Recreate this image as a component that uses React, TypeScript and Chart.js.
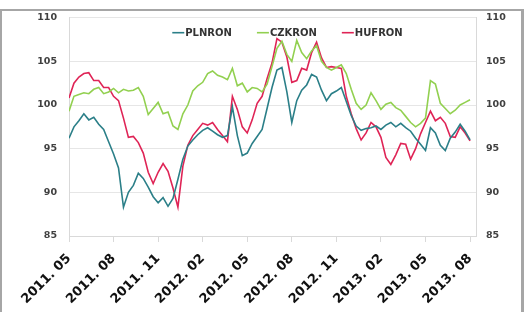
import React, { useEffect, useRef } from "react";
import { Chart, registerables } from "chart.js";

Chart.register(...registerables);

const dates: string[] = [
  "2011-05-01","2011-05-11","2011-05-21","2011-06-01","2011-06-11","2011-06-21",
  "2011-07-01","2011-07-11","2011-07-21","2011-08-01","2011-08-11","2011-08-21",
  "2011-09-01","2011-09-11","2011-09-21","2011-10-01","2011-10-11","2011-10-21",
  "2011-11-01","2011-11-11","2011-11-21","2011-12-01","2011-12-11","2011-12-21",
  "2012-01-01","2012-01-11","2012-01-21","2012-02-01","2012-02-11","2012-02-21",
  "2012-03-01","2012-03-11","2012-03-21","2012-04-01","2012-04-11","2012-04-21",
  "2012-05-01","2012-05-11","2012-05-21","2012-06-01","2012-06-11","2012-06-21",
  "2012-07-01","2012-07-11","2012-07-21","2012-08-01","2012-08-11","2012-08-21",
  "2012-09-01","2012-09-11","2012-09-21","2012-10-01","2012-10-11","2012-10-21",
  "2012-11-01","2012-11-11","2012-11-21","2012-12-01","2012-12-11","2012-12-21",
  "2013-01-01","2013-01-11","2013-01-21","2013-02-01","2013-02-11","2013-02-21",
  "2013-03-01","2013-03-11","2013-03-21","2013-04-01","2013-04-11","2013-04-21",
  "2013-05-01","2013-05-11","2013-05-21","2013-06-01","2013-06-11","2013-06-21",
  "2013-07-01","2013-07-11","2013-07-21","2013-08-01",
];

const plnron: number[] = [
  96.2, 97.5, 98.2, 99.0, 98.3, 98.6, 97.8, 97.2, 95.8, 94.4, 92.8, 88.3,
  90.0, 90.8, 92.2, 91.6, 90.6, 89.5, 88.8, 89.4, 88.4, 89.3, 91.5, 93.8,
  95.3, 96.0, 96.6, 97.1, 97.4, 97.0, 96.6, 96.3, 96.5, 99.8, 96.5, 94.2,
  94.5, 95.6, 96.4, 97.2, 99.6, 102.0, 104.0, 104.3, 101.5, 98.0, 100.5, 101.7,
  102.3, 103.5, 103.2, 101.7, 100.5, 101.3, 101.6, 102.0, 100.4, 98.8, 97.6, 97.1,
  97.3, 97.4, 97.6, 97.2, 97.7, 98.0, 97.5, 97.9, 97.4, 97.0, 96.2, 95.5,
  94.8, 97.4, 96.8, 95.4, 94.8, 96.2, 96.9, 97.8, 97.0, 96.0,
];

const czkron: number[] = [
  99.3, 101.0, 101.2, 101.4, 101.3, 101.8, 102.0, 101.3, 101.5, 101.9, 101.4, 101.8,
  101.6, 101.7, 102.0, 101.0, 98.9, 99.6, 100.3, 99.0, 99.2, 97.6, 97.2, 99.0,
  100.0, 101.6, 102.2, 102.6, 103.6, 103.9, 103.4, 103.2, 102.9, 104.2, 102.2, 102.5,
  101.5, 102.0, 101.9, 101.5, 102.4, 104.4, 106.5, 107.3, 105.8, 105.0, 107.4, 106.0,
  105.3, 106.2, 106.8, 105.0, 104.3, 104.0, 104.3, 104.6, 103.6, 101.8, 100.2, 99.5,
  100.0, 101.4, 100.5, 99.5, 100.1, 100.3, 99.7, 99.4, 98.7, 98.0, 97.5, 97.9,
  98.5, 102.8, 102.4, 100.2, 99.6, 99.0, 99.4, 100.0, 100.3, 100.6,
];

const hufron: number[] = [
  100.8, 102.5, 103.2, 103.6, 103.7, 102.8, 102.8, 102.0, 102.0, 101.0, 100.5, 98.5,
  96.3, 96.4, 95.7, 94.5, 92.3, 91.0, 92.3, 93.3, 92.4, 90.5, 88.3, 93.0,
  95.4, 96.5, 97.2, 97.9, 97.7, 98.0, 97.2, 96.5, 95.8, 101.0, 99.5, 97.5,
  96.8, 98.3, 100.2, 101.0, 103.0, 104.8, 107.6, 107.2, 105.5, 102.6, 102.8, 104.2,
  104.0, 106.0, 107.2, 105.4, 104.3, 104.4, 104.3, 104.2, 101.0, 99.0, 97.3, 96.0,
  96.8, 98.0, 97.5, 96.3, 94.0, 93.2, 94.3, 95.6, 95.5, 93.8, 95.0, 96.7,
  98.0, 99.3, 98.2, 98.6, 97.9, 96.4, 96.3, 97.5, 96.8, 95.9,
];

const tickLabels: string[] = [
  "2011. 05", "2011. 08", "2011. 11", "2012. 02", "2012. 05",
  "2012. 08", "2012. 11", "2013. 02", "2013. 05", "2013. 08",
];

const seriesNames = ["PLNRON", "CZKRON", "HUFRON"];
const seriesColors = ["#2B7F88", "#92D050", "#DF2456"];

function monthOffset(d: string): number {
  const [y, m, day] = d.split("-").map(Number);
  return (y - 2011) * 12 + (m - 5) + (day - 1) / 30;
}

const inlineLegend = {
  id: "inlineLegend",
  afterDraw(chart: any) {
    const { ctx, chartArea } = chart;
    const font = "bold 10px 'DejaVu Sans', sans-serif";
    ctx.save();
    ctx.font = font;
    const lineW = 12;
    const lineGap = 1;
    const itemGap = 25;
    const items = chart.data.datasets.map((ds: any) => ({
      label: ds.label as string,
      color: ds.borderColor as string,
      w: lineW + lineGap + ctx.measureText(ds.label).width,
    }));
    const total =
      items.reduce((s: number, it: any) => s + it.w, 0) + itemGap * (items.length - 1);
    let x = (chartArea.left + chartArea.right) / 2 + 15 - total / 2;
    const y = chartArea.top + 15;
    ctx.textBaseline = "middle";
    ctx.textAlign = "left";
    for (const it of items) {
      ctx.strokeStyle = it.color;
      ctx.lineWidth = 1.6;
      ctx.beginPath();
      ctx.moveTo(x, y);
      ctx.lineTo(x + lineW, y);
      ctx.stroke();
      ctx.fillStyle = "#333333";
      ctx.fillText(it.label, x + lineW + lineGap, y + 0.5);
      x += it.w + itemGap;
    }
    ctx.restore();
  },
};

export default function App() {
  const ref = useRef<HTMLCanvasElement | null>(null);

  useEffect(() => {
    if (!ref.current) return;
    const xs = dates.map(monthOffset);
    const all = [plnron, czkron, hufron];
    const chart = new Chart(ref.current, {
      type: "line",
      data: {
        datasets: all.map((vals, i) => ({
          label: seriesNames[i],
          data: vals.map((v, j) => ({ x: xs[j], y: v })),
          borderColor: seriesColors[i],
          backgroundColor: seriesColors[i],
          borderWidth: 1.6,
          pointRadius: 0,
          tension: 0,
          fill: false,
        })),
      },
      plugins: [inlineLegend],
      options: {
        responsive: false,
        animation: false,
        events: [],
        layout: { padding: { top: 17, left: 0, right: 0, bottom: 0 } },
        plugins: {
          tooltip: { enabled: false },
          legend: { display: false },
        },
        scales: {
          x: {
            type: "linear",
            min: 0,
            max: 27.4,
            afterBuildTicks: (scale: any) => {
              scale.ticks = tickLabels.map((_, i) => ({ value: i * 3 }));
            },
            afterFit: (scale: any) => {
              scale.height = 76;
            },
            ticks: {
              autoSkip: false,
              minRotation: 45,
              maxRotation: 45,
              padding: 9,
              color: "#111111",
              font: { family: "'DejaVu Sans', sans-serif", size: 13, weight: "bold" },
              callback: (v: any) => tickLabels[Math.round(Number(v) / 3)] ?? "",
            },
            grid: {
              display: true,
              drawOnChartArea: false,
              drawTicks: true,
              tickLength: 6,
              color: "#d9d9d9",
            },
            border: { display: true, color: "#d9d9d9" },
          },
          y: {
            position: "left",
            min: 85,
            max: 110,
            afterFit: (scale: any) => {
              scale.width = 69;
            },
            ticks: {
              stepSize: 5,
              padding: 12,
              color: "#404040",
              font: { family: "'DejaVu Sans', sans-serif", size: 9.5, weight: "bold" },
            },
            grid: { color: "#e6e6e6", drawTicks: false },
            border: { display: true, color: "#d9d9d9" },
          },
          y2: {
            position: "right",
            min: 85,
            max: 110,
            afterFit: (scale: any) => {
              scale.width = 48;
            },
            ticks: {
              stepSize: 5,
              padding: 10,
              color: "#404040",
              font: { family: "'DejaVu Sans', sans-serif", size: 9.5, weight: "bold" },
            },
            grid: { display: false, drawTicks: false },
            border: { display: true, color: "#d9d9d9" },
          },
        },
      },
    });
    return () => chart.destroy();
  }, []);

  return (
    <div
      style={{
        position: "absolute",
        left: 0,
        top: 0,
        width: 524,
        height: 312,
        background: "#ffffff",
        overflow: "hidden",
      }}
    >
      <div
        style={{
          position: "absolute",
          left: 0,
          top: 9,
          width: 524,
          height: 303,
          boxSizing: "border-box",
          borderTop: "2px solid #a6a6a6",
          borderLeft: "2px solid #a6a6a6",
          borderRight: "3px solid #a6a6a6",
        }}
      />
      <canvas
        ref={ref}
        width={524}
        height={312}
        style={{ position: "absolute", left: 0, top: 0, width: 524, height: 312 }}
      />
    </div>
  );
}
